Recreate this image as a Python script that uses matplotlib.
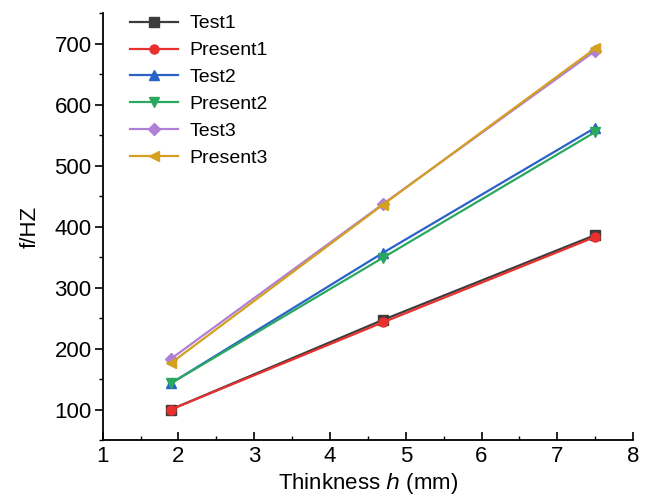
import matplotlib
matplotlib.use("Agg")
import matplotlib.pyplot as plt
from matplotlib.ticker import MultipleLocator

plt.rcParams['font.family'] = ['Liberation Sans', 'DejaVu Sans']

thickness = [1.9, 4.7, 7.5]
test1 = [100, 247, 386]
present1 = [100, 243, 383]
test2 = [143, 357, 562]
present2 = [143, 349, 555]
test3 = [183, 437, 688]
present3 = [176, 436, 692]

labels = ["Test1", "Present1", "Test2", "Present2", "Test3", "Present3"]
series = [test1, present1, test2, present2, test3, present3]
colors = ["#3c3c3c", "#e8302f", "#2a62c8", "#2aa860", "#b07fd6", "#d4a020"]
markers = ["s", "o", "^", "v", "D", "<"]

fig = plt.figure(figsize=(6.46, 5.04), dpi=100)
ax = fig.add_axes([0.159, 0.127, 0.821, 0.847])

for lab, ys, c, m in zip(labels, series, colors, markers):
    ms = 6.5 if m != "D" else 6
    ax.plot(thickness, ys, color=c, marker=m, markersize=ms, linewidth=1.6, label=lab)

ax.set_xlim(1, 8)
ax.set_ylim(50, 750)
ax.xaxis.set_major_locator(MultipleLocator(1))
ax.xaxis.set_minor_locator(MultipleLocator(0.5))
ax.yaxis.set_major_locator(MultipleLocator(100))
ax.yaxis.set_minor_locator(MultipleLocator(50))
ax.set_yticks(range(100, 701, 100))

for s in ["top", "right"]:
    ax.spines[s].set_visible(False)
ax.spines["left"].set_linewidth(1.3)
ax.spines["bottom"].set_linewidth(1.3)

ax.tick_params(axis='x', which='major', direction='in', length=6, width=1.2, labelsize=16, pad=4)
ax.tick_params(axis='x', which='minor', direction='in', length=3, width=1.0)
ax.tick_params(axis='y', which='major', direction='out', length=6, width=1.2, labelsize=16, pad=2)
ax.tick_params(axis='y', which='minor', direction='out', length=3, width=1.0)

ax.set_xlabel("Thinkness $\\mathit{h}$ (mm)", fontsize=16, labelpad=3)
ax.set_ylabel("f/HZ", fontsize=16, labelpad=10)

leg = ax.legend(loc='upper left', bbox_to_anchor=(0.025, 1.028), frameon=False, fontsize=14,
                handlelength=2.5, labelspacing=0.48, handletextpad=0.6, borderaxespad=0.3)

fig.savefig("out.png", dpi=100)
